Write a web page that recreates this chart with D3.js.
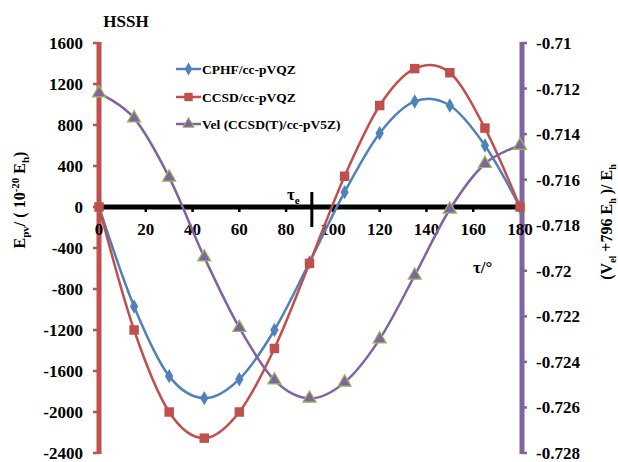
<!DOCTYPE html>
<html>
<head>
<meta charset="utf-8">
<script src="https://cdn.jsdelivr.net/npm/d3@7"></script>
<style>
  body { margin: 0; background: #fff; }
  text { font-family: "Liberation Serif", "Times New Roman", serif; font-weight: bold; fill: #000; }
</style>
</head>
<body>
<svg id="chart" width="618" height="462"></svg>
<script>
// torsion angle tau (degrees)
const angles = [0, 15, 30, 45, 60, 75, 90, 105, 120, 135, 150, 165, 180];
// E_pv in 10^-20 Eh (left axis)
const cphf = [0, -970, -1650, -1865, -1680, -1200, -540, 145, 720, 1030, 990, 600, 0];
const ccsd = [0, -1200, -2000, -2255, -2000, -1380, -550, 300, 990, 1350, 1310, 770, 0];
// V_el + 796 Eh (right axis)
const vel = [-0.7122, -0.7133, -0.7159, -0.7194, -0.7225, -0.7248, -0.7256, -0.7249, -0.7230, -0.7202, -0.7173, -0.7153, -0.7145];

const xTicks = [0, 20, 40, 60, 80, 100, 120, 140, 160, 180];
const leftTicks = [1600, 1200, 800, 400, 0, -400, -800, -1200, -1600, -2000, -2400];
const rightTicks = [-0.71, -0.712, -0.714, -0.716, -0.718, -0.72, -0.722, -0.724, -0.726, -0.728];
const tauE = 91;

const seriesNames = ["CPHF/cc-pVQZ", "CCSD/cc-pVQZ", "Vel (CCSD(T)/cc-pV5Z)"];

const svg = d3.select("#chart");

const x = d3.scaleLinear().domain([0, 180]).range([99, 520]);
const yL = d3.scaleLinear().domain([-2400, 1600]).range([453, 43]);
const yR = d3.scaleLinear().domain([-0.728, -0.71]).range([453, 43]);

const blue = "#4F81BD", red = "#C0504D", purple = "#8064A2", green = "#9BBB59";

// ---- axes ----
// left (primary) axis, red
svg.append("line")
    .attr("x1", x(0)).attr("x2", x(0))
    .attr("y1", yL(1600) - 1).attr("y2", yL(-2400) + 1)
    .attr("stroke", red).attr("stroke-width", 5);
svg.selectAll(".ltick").data(leftTicks).enter().append("line")
    .attr("x1", x(0) - 6).attr("x2", x(0))
    .attr("y1", d => yL(d)).attr("y2", d => yL(d))
    .attr("stroke", red).attr("stroke-width", 2.5);
svg.selectAll(".llab").data(leftTicks).enter().append("text")
    .attr("x", 83).attr("y", d => yL(d) + 6)
    .attr("text-anchor", "end").attr("font-size", 17)
    .text(d => String(d));

// right (secondary) axis, purple
svg.append("line")
    .attr("x1", 522).attr("x2", 522)
    .attr("y1", yR(-0.71) - 1).attr("y2", yR(-0.728) + 1)
    .attr("stroke", purple).attr("stroke-width", 5);
svg.selectAll(".rtick").data(rightTicks).enter().append("line")
    .attr("x1", 522).attr("x2", 527)
    .attr("y1", d => yR(d)).attr("y2", d => yR(d))
    .attr("stroke", purple).attr("stroke-width", 2.5);
svg.selectAll(".rlab").data(rightTicks).enter().append("text")
    .attr("x", 536).attr("y", d => yR(d) + 6)
    .attr("font-size", 17)
    .text(d => String(d));

// x axis on zero line
svg.append("line")
    .attr("x1", x(0)).attr("x2", x(180))
    .attr("y1", yL(0)).attr("y2", yL(0))
    .attr("stroke", "#000").attr("stroke-width", 5);
svg.selectAll(".xtick").data(xTicks).enter().append("line")
    .attr("x1", d => x(d)).attr("x2", d => x(d))
    .attr("y1", yL(0)).attr("y2", yL(0) + 5)
    .attr("stroke", "#000").attr("stroke-width", 2.5);
svg.selectAll(".xlab").data(xTicks).enter().append("text")
    .attr("x", d => x(d)).attr("y", yL(0) + 28)
    .attr("text-anchor", "middle").attr("font-size", 17)
    .text(d => d);

// tau_e marker
svg.append("line")
    .attr("x1", x(tauE)).attr("x2", x(tauE))
    .attr("y1", yL(0) - 15).attr("y2", yL(0) + 20)
    .attr("stroke", "#000").attr("stroke-width", 3);
const te = svg.append("text").attr("x", 287).attr("y", 200).attr("font-size", 17);
te.append("tspan").text("τ");
te.append("tspan").attr("dy", 4).attr("font-size", 11).text("e");

svg.append("text").attr("x", 473).attr("y", 273).attr("font-size", 17).text("τ/°");

// title
svg.append("text").attr("x", 126).attr("y", 27)
    .attr("text-anchor", "middle").attr("font-size", 17).text("HSSH");

// axis titles
const lt = svg.append("text")
    .attr("transform", "translate(25,200) rotate(-90)")
    .attr("text-anchor", "middle").attr("font-size", 16);
lt.append("tspan").text("E");
lt.append("tspan").attr("dy", 4).attr("font-size", 11).text("pv");
lt.append("tspan").attr("dy", -4).text("/ ( 10");
lt.append("tspan").attr("dy", -6).attr("font-size", 11).text("-20");
lt.append("tspan").attr("dy", 6).text(" E");
lt.append("tspan").attr("dy", 4).attr("font-size", 11).text("h");
lt.append("tspan").attr("dy", -4).text(")");

const rt = svg.append("text")
    .attr("transform", "translate(612,222) rotate(-90)")
    .attr("text-anchor", "middle").attr("font-size", 16);
rt.append("tspan").text("(V");
rt.append("tspan").attr("dy", 4).attr("font-size", 10).text("el");
rt.append("tspan").attr("dy", -4).text(" +796  E");
rt.append("tspan").attr("dy", 4).attr("font-size", 10).text("h");
rt.append("tspan").attr("dy", -4).text(" )/ E");
rt.append("tspan").attr("dy", 4).attr("font-size", 10).text("h");

// ---- series ----
const curve = d3.curveCardinal.tension(0);

function drawSeries(values, yScale, color, shape, size, stroke) {
    const pts = angles.map((a, i) => [x(a), yScale(values[i])]);
    svg.append("path")
        .attr("d", d3.line().curve(curve)(pts))
        .attr("fill", "none").attr("stroke", color).attr("stroke-width", 2.5);
    svg.selectAll(null).data(pts).enter().append("path")
        .attr("transform", d => "translate(" + d[0] + "," + d[1] + ")")
        .attr("d", d3.symbol().type(shape).size(size))
        .attr("fill", color)
        .attr("stroke", stroke || "none").attr("stroke-width", 1.2);
}

drawSeries(cphf, yL, blue, d3.symbolDiamond, 60);
drawSeries(ccsd, yL, red, d3.symbolSquare, 90);
drawSeries(vel, yR, purple, d3.symbolTriangle, 75, green);

// ---- legend ----
const legY = [69, 97, 124];
const legColors = [blue, red, purple];
const legShapes = [d3.symbolDiamond, d3.symbolSquare, d3.symbolTriangle];
const legSizes = [50, 70, 55];
seriesNames.forEach((name, i) => {
    const g = svg.append("g").attr("transform", "translate(0," + legY[i] + ")");
    g.append("line").attr("x1", 176).attr("x2", 201).attr("y1", 0).attr("y2", 0)
        .attr("stroke", legColors[i]).attr("stroke-width", 2.5);
    g.append("path").attr("transform", "translate(188.5,0)")
        .attr("d", d3.symbol().type(legShapes[i]).size(legSizes[i]))
        .attr("fill", legColors[i])
        .attr("stroke", i === 2 ? green : "none").attr("stroke-width", 1);
    g.append("text").attr("x", 202).attr("y", 5).attr("font-size", 13.5).text(name);
});
</script>
</body>
</html>
